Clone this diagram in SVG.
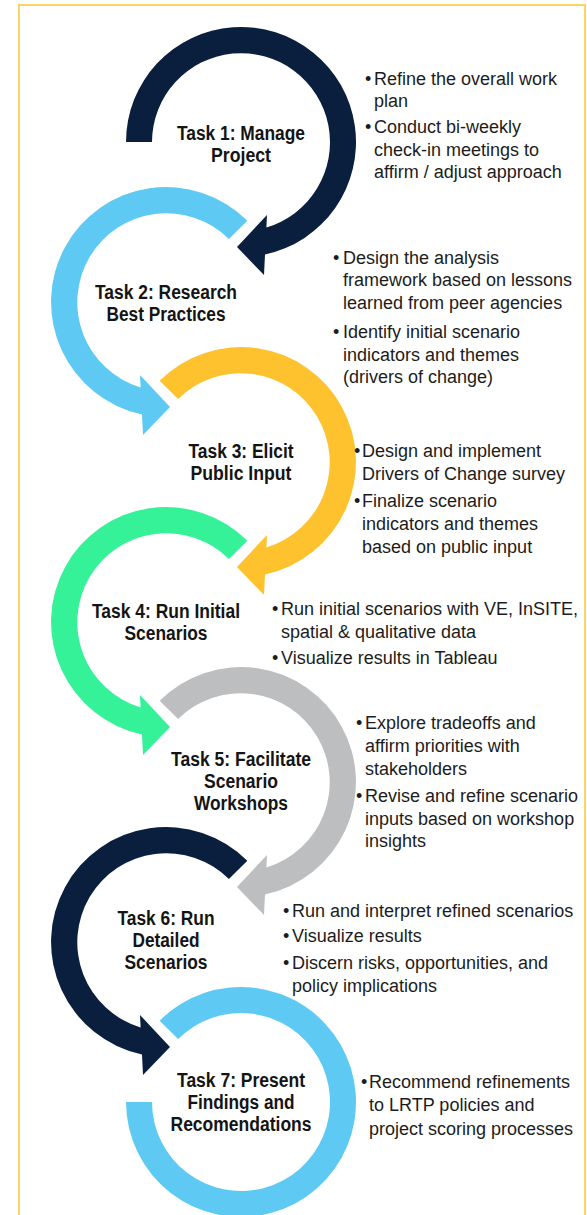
<svg xmlns="http://www.w3.org/2000/svg" xmlns:xlink="http://www.w3.org/1999/xlink" width="587" height="1215" viewBox="0 0 587 1215">
<style>
.lbl{font-family:"Liberation Sans",Arial,sans-serif;font-weight:bold;font-size:20px;fill:#141414;text-anchor:middle}
.bul{font-family:"Liberation Sans",Arial,sans-serif;font-size:18px;fill:#1c1c1c}
.navy{fill:#0a1f3e}.sky{fill:#5ecaf4}.gold{fill:#fec22e}.mint{fill:#35f299}.grey{fill:#bdbec0}
</style>
<defs>
<path id="arcFirst" d="M-115 0A115 115 0 1 1 24 112.5L23 133L-4 105L26 73L25.4 85.5A89 89 0 1 0 -89 0Z"/>
<path id="arcOdd" d="M-81.32 -81.32A115 115 0 1 1 24 112.5L23 133L-4 105L26 73L25.4 85.5A89 89 0 1 0 -62.93 -62.93Z"/>
<path id="arcEven" d="M81.32 -81.32A115 115 0 1 0 -24 112.5L-23 133L4 105L-26 73L-25.4 85.5A89 89 0 1 1 62.93 -62.93Z"/>
<path id="ringLast" d="M-81.32 -81.32A115 115 0 1 1 -115 0L-89 0A89 89 0 1 0 -62.93 -62.93Z"/>
</defs>
<rect width="587" height="1215" fill="#ffffff"/>
<path d="M19 1216V5H585V1216" fill="none" stroke="#fdd468" stroke-width="2"/>
<g id="connectors"></g>

<g id="task1">
<use xlink:href="#arcFirst" href="#arcFirst" x="241" y="142" class="navy"/>
<text class="lbl" x="241" y="140" textLength="128" lengthAdjust="spacingAndGlyphs">Task 1: Manage</text>
<text class="lbl" x="241" y="162" textLength="60" lengthAdjust="spacingAndGlyphs">Project</text>
<text class="bul" x="365" y="85">•<tspan x="374">Refine the overall work</tspan></text>
<text class="bul" x="374" y="107">plan</text>
<text class="bul" x="365" y="133">•<tspan x="374">Conduct bi-weekly</tspan></text>
<text class="bul" x="374" y="156">check-in meetings to</text>
<text class="bul" x="374" y="178">affirm / adjust approach</text>
</g>

<g id="task2">
<use xlink:href="#arcEven" href="#arcEven" x="166" y="302" class="sky"/>
<text class="lbl" x="166" y="299" textLength="142" lengthAdjust="spacingAndGlyphs">Task 2: Research</text>
<text class="lbl" x="166" y="321" textLength="119" lengthAdjust="spacingAndGlyphs">Best Practices</text>
<text class="bul" x="333" y="264">•<tspan x="343">Design the analysis</tspan></text>
<text class="bul" x="343" y="286">framework based on lessons</text>
<text class="bul" x="343" y="309">learned from peer agencies</text>
<text class="bul" x="333" y="338">•<tspan x="343">Identify initial scenario</tspan></text>
<text class="bul" x="343" y="361">indicators and themes</text>
<text class="bul" x="343" y="383">(drivers of change)</text>
</g>

<g id="task3">
<use xlink:href="#arcOdd" href="#arcOdd" x="241" y="462" class="gold"/>
<text class="lbl" x="241" y="458" textLength="105" lengthAdjust="spacingAndGlyphs">Task 3: Elicit</text>
<text class="lbl" x="241" y="480" textLength="101" lengthAdjust="spacingAndGlyphs">Public Input</text>
<text class="bul" x="354" y="457">•<tspan x="362">Design and implement</tspan></text>
<text class="bul" x="362" y="480">Drivers of Change survey</text>
<text class="bul" x="354" y="507">•<tspan x="362">Finalize scenario</tspan></text>
<text class="bul" x="362" y="530">indicators and themes</text>
<text class="bul" x="362" y="553">based on public input</text>
</g>

<g id="task4">
<use xlink:href="#arcEven" href="#arcEven" x="166" y="622" class="mint"/>
<text class="lbl" x="166" y="618" textLength="148" lengthAdjust="spacingAndGlyphs">Task 4: Run Initial</text>
<text class="lbl" x="166" y="640" textLength="83" lengthAdjust="spacingAndGlyphs">Scenarios</text>
<text class="bul" x="272" y="615">•<tspan x="281">Run initial scenarios with VE, InSITE,</tspan></text>
<text class="bul" x="281" y="638">spatial &amp; qualitative data</text>
<text class="bul" x="272" y="664">•<tspan x="281">Visualize results in Tableau</tspan></text>
</g>

<g id="task5">
<use xlink:href="#arcOdd" href="#arcOdd" x="241" y="782" class="grey"/>
<text class="lbl" x="241" y="766" textLength="140" lengthAdjust="spacingAndGlyphs">Task 5: Facilitate</text>
<text class="lbl" x="241" y="788" textLength="74" lengthAdjust="spacingAndGlyphs">Scenario</text>
<text class="lbl" x="241" y="810" textLength="94" lengthAdjust="spacingAndGlyphs">Workshops</text>
<text class="bul" x="356" y="729">•<tspan x="365">Explore tradeoffs and</tspan></text>
<text class="bul" x="365" y="752">affirm priorities with</text>
<text class="bul" x="365" y="775">stakeholders</text>
<text class="bul" x="356" y="802">•<tspan x="365">Revise and refine scenario</tspan></text>
<text class="bul" x="365" y="825">inputs based on workshop</text>
<text class="bul" x="365" y="847">insights</text>
</g>

<g id="task6">
<use xlink:href="#arcEven" href="#arcEven" x="166" y="942" class="navy"/>
<text class="lbl" x="166" y="925" textLength="97" lengthAdjust="spacingAndGlyphs">Task 6: Run</text>
<text class="lbl" x="166" y="947" textLength="67" lengthAdjust="spacingAndGlyphs">Detailed</text>
<text class="lbl" x="166" y="969" textLength="83" lengthAdjust="spacingAndGlyphs">Scenarios</text>
<text class="bul" x="283" y="917">•<tspan x="292">Run and interpret refined scenarios</tspan></text>
<text class="bul" x="283" y="942">•<tspan x="292">Visualize results</tspan></text>
<text class="bul" x="283" y="969">•<tspan x="292">Discern risks, opportunities, and</tspan></text>
<text class="bul" x="292" y="992">policy implications</text>
</g>

<g id="task7">
<use xlink:href="#ringLast" href="#ringLast" x="241" y="1102" class="sky"/>
<text class="lbl" x="241" y="1087" textLength="128" lengthAdjust="spacingAndGlyphs">Task 7: Present</text>
<text class="lbl" x="241" y="1109" textLength="107" lengthAdjust="spacingAndGlyphs">Findings and</text>
<text class="lbl" x="241" y="1131" textLength="141" lengthAdjust="spacingAndGlyphs">Recomendations</text>
<text class="bul" x="361" y="1088">•<tspan x="369">Recommend refinements</tspan></text>
<text class="bul" x="369" y="1111">to LRTP policies and</text>
<text class="bul" x="369" y="1135">project scoring processes</text>
</g>
</svg>
